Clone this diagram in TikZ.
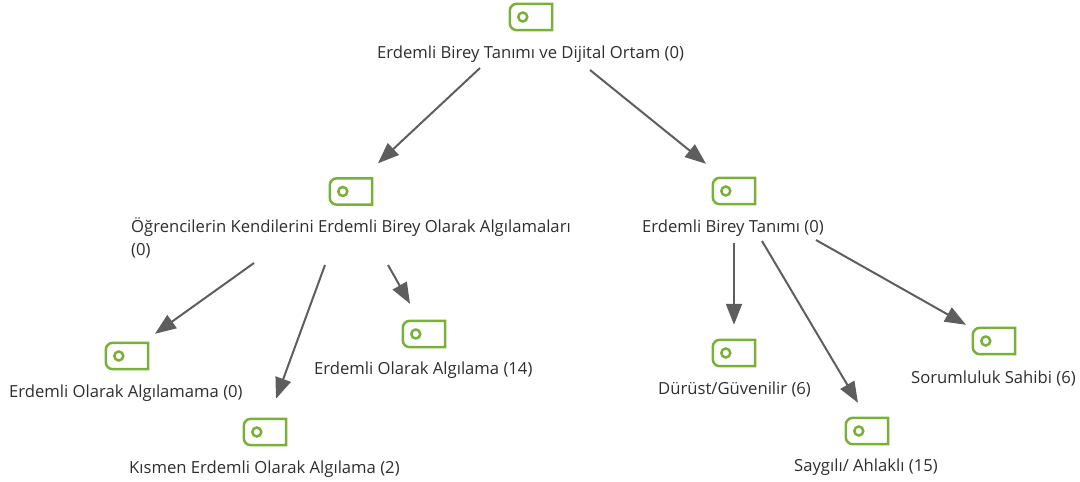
\documentclass[tikz,border=0pt]{standalone}
\usepackage{fontspec}
\setmainfont{Open Sans}
\usetikzlibrary{arrows.meta}
\definecolor{taggreen}{HTML}{7AB03A}
\definecolor{linkgray}{HTML}{5E5E5E}
\definecolor{textgray}{HTML}{2E2E2E}
\tikzset{
  tagbox/.style={minimum width=42pt,minimum height=26pt,inner sep=0pt},
  tagline/.style={draw=taggreen,line width=2.5pt},
  taglabel/.style={anchor=west,inner sep=0pt,text=textgray,align=left,text height=14pt,text depth=1pt,
    font=\fontsize{16.65pt}{23pt}\selectfont},
  link/.style={draw=linkgray,line width=2pt,-{Triangle[length=21pt,width=16pt]}}
}
\begin{document}
\begin{tikzpicture}[x=1pt,y=-1pt]
  \useasboundingbox (0,0) rectangle (1080,482);
  \foreach \name/\x/\y in {root/531/17,self/351/191.5,def/734/191,notsee/127/356,partly/265/432,see/424/334,honest/734/353,respect/867/431,duty/994/341}{
    \node[tagbox] (\name) at (\x,\y) {};
    \draw[tagline] (\name.north east) -- (\name.south east) [rounded corners=7pt] -- (\name.south west) -- (\name.north west) [sharp corners] -- cycle;
    \draw[tagline] ([xshift=13pt]\name.west) circle (4.5pt);
  }
  \node[taglabel] (rootlabel) at (377,52) {Erdemli Birey Tanımı ve Dijital Ortam (0)};
  \node[taglabel] (selflabel) at (131,248.5) {Öğrencilerin Kendilerini Erdemli Birey Olarak Algılamaları\\(0)};
  \node[taglabel] (deflabel) at (642,226) {Erdemli Birey Tanımı (0)};
  \node[taglabel] (notseelabel) at (9,391) {Erdemli Olarak Algılamama (0)};
  \node[taglabel] (partlylabel) at (129,467) {Kısmen Erdemli Olarak Algılama (2)};
  \node[taglabel] (seelabel) at (314,368) {Erdemli Olarak Algılama (14)};
  \node[taglabel] (honestlabel) at (658,388) {Dürüst/Güvenilir (6)};
  \node[taglabel] (respectlabel) at (794,465) {Saygılı/ Ahlaklı (15)};
  \node[taglabel] (dutylabel) at (911,377) {Sorumluluk Sahibi (6)};
  \draw[link] ([shift={(103,16)}]rootlabel.west) -- ([shift={(27,-15)}]self.north);
  \draw[link] ([shift={(213,18)}]rootlabel.west) -- ([shift={(-28,-14)}]def.north);
  \draw[link] ([shift={(123,14.5)}]selflabel.west) -- ([shift={(28,-9)}]notsee.north);
  \draw[link] ([shift={(194,16.5)}]selflabel.west) -- ([shift={(11,-20)}]partly.north);
  \draw[link] ([shift={(257,16.5)}]selflabel.west) -- ([shift={(-14,-17)}]see.north);
  \draw[link] ([shift={(92,17)}]deflabel.west) -- ([shift={(0,-15)}]honest.north);
  \draw[link] ([shift={(120,15)}]deflabel.west) -- ([shift={(-9,-15)}]respect.north);
  \draw[link] ([shift={(174,14)}]deflabel.west) -- ([shift={(-28,-3)}]duty.north);
\end{tikzpicture}
\end{document}
